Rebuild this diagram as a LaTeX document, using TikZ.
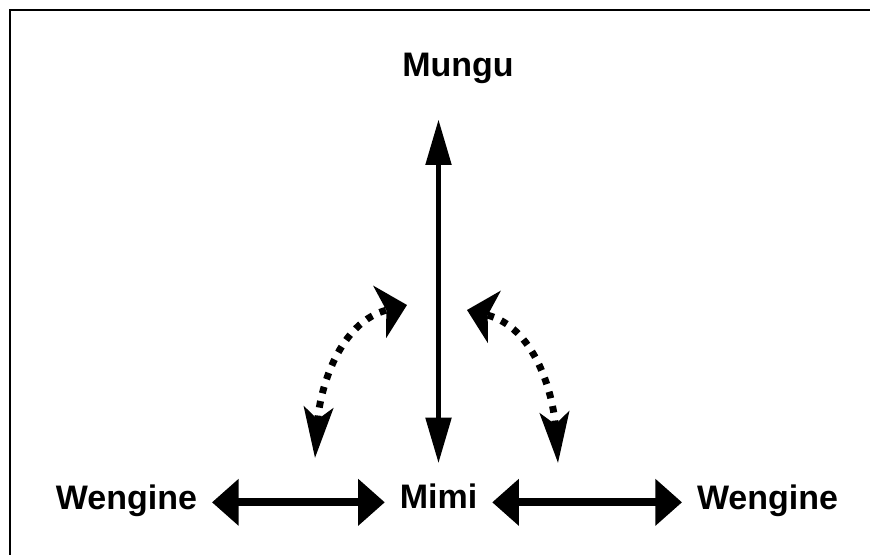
\documentclass[tikz,border=0pt]{standalone}
\usepackage{fontspec}
\setmainfont{Liberation Sans}
\usetikzlibrary{arrows.meta}

\tikzset{
	word/.style={font=\bfseries\fontsize{25.5}{30}\selectfont, inner sep=0pt,
		outer xsep=11.25pt, outer ysep=0pt, text height=10pt, text depth=0pt},
	sidearrow/.style={line width=6pt, {Triangle[length=20pt,width=34pt]}-{Triangle[length=20pt,width=34pt]}},
	uparrow/.style={line width=3.2pt, {Triangle[length=34pt,width=19pt]}-{Triangle[length=34pt,width=19pt]}},
	swingarrow/.style={line width=5.2pt, dash pattern=on 5pt off 6pt,
		{Stealth[length=38pt,width=22pt,inset=9pt]}-{Stealth[length=21pt,width=40pt,inset=5pt]}}
}

\begin{document}
\begin{tikzpicture}[x=0.75pt,y=0.75pt]
		
		\useasboundingbox (0,0) rectangle (870,555);
		\draw[line width=1.9pt] (870,545) -- (10,545) -- (10,0);
		
		\node[word, anchor=base] (mungu) at (458,478) {Mungu};
		\node[word, anchor=base] (mimi) at (438.5,46) {Mimi};
		\node[word, anchor=base east] (wl) at (212,45) {Wengine};
		\node[word, anchor=base west] (wr) at (682,45) {Wengine};
		
		\foreach \a/\b in {wl/mimi, mimi/wr}
		{
			\draw[sidearrow] (\a.east |- mimi) -- (\b.west |- mimi);
		}
		\draw[uparrow, shorten <=24.5pt, shorten >=32pt] (mimi.north) -- (mimi.north |- mungu.base);
		
		% free ends of the swinging arrows
		\coordinate (l1) at (315,97);
		\coordinate (l2) at (407,250);
		\coordinate (r1) at (558,92);
		\coordinate (r2) at (467,245);
		\draw[swingarrow] (l1) to[out=86, in=194] (l2);
		\draw[swingarrow] (r1) to[out=94, in=-14] (r2);
		
\end{tikzpicture}
\end{document}
